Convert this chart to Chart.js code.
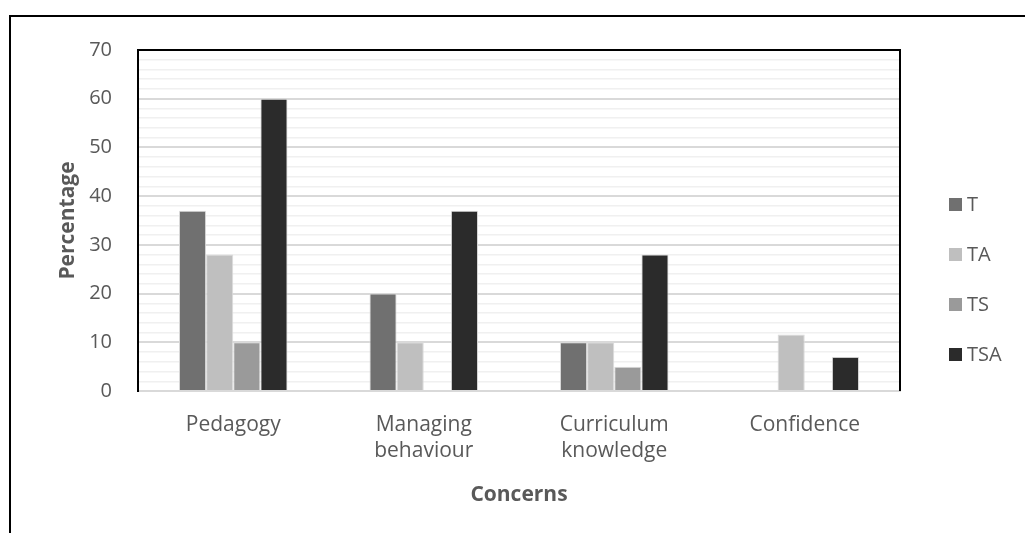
<!DOCTYPE html>
<html>
<head>
<meta charset="utf-8">
<script src="https://cdn.jsdelivr.net/npm/chart.js@4"></script>
<style>
  html, body { margin: 0; padding: 0; background: #fff; }
  #wrap { width: 1025px; height: 533px; }
</style>
</head>
<body>
<div id="wrap"><canvas id="concernsChart" width="1025" height="533"></canvas></div>
<script>
const categories = ['Pedagogy', ['Managing', 'behaviour'], ['Curriculum', 'knowledge'], 'Confidence'];
const seriesNames = ['T', 'TA', 'TS', 'TSA'];
const tValues = [37, 20, 10, 0];
const taValues = [28, 10, 10, 11.6];
const tsValues = [10, 0, 5, 0];
const tsaValues = [60, 37, 28, 7];
const seriesColors = ['#707070', '#bfbfbf', '#9a9a9a', '#2b2b2b'];

const textColor = '#595959';
const fontFamily = '"Open Sans", sans-serif';

// frame round the whole figure, box round the plot, legend on the right
const framePlugin = {
    id: 'frame',
    afterDraw(chart) {
        const c = chart.ctx;
        const a = chart.chartArea;
        c.save();
        c.strokeStyle = '#000';
        c.lineWidth = 2;
        c.beginPath();
        c.moveTo(10, 533);
        c.lineTo(10, 16);
        c.lineTo(1025, 16);
        c.stroke();
        c.beginPath();
        c.moveTo(a.left, a.top);
        c.lineTo(a.right, a.top);
        c.lineTo(a.right, a.bottom);
        c.stroke();

        c.font = '20px ' + fontFamily;
        c.textBaseline = 'middle';
        c.textAlign = 'left';
        chart.data.datasets.forEach((ds, i) => {
            const y = 205 + i * 50;
            c.fillStyle = ds.backgroundColor;
            c.fillRect(949, y - 7, 13, 13);
            c.fillStyle = textColor;
            c.fillText(ds.label, 967, y);
        });
        c.restore();
    }
};

new Chart(document.getElementById('concernsChart'), {
    type: 'bar',
    data: {
        labels: categories,
        datasets: [tValues, taValues, tsValues, tsaValues].map((vals, i) => ({
            label: seriesNames[i],
            data: vals,
            backgroundColor: seriesColors[i],
            borderColor: '#dcdcdc',
            borderWidth: 1,
            categoryPercentage: 0.57,
            barPercentage: 1
        }))
    },
    options: {
        responsive: false,
        animation: false,
        layout: { padding: { top: 50, right: 125, left: 0, bottom: 0 } },
        plugins: {
            legend: { display: false },
            tooltip: { enabled: false }
        },
        scales: {
            x: {
                grid: { display: false, drawTicks: false },
                border: { color: '#d9d9d9', width: 2 },
                ticks: {
                    color: textColor,
                    padding: 21,
                    maxRotation: 0,
                    font: { family: fontFamily, size: 21, lineHeight: 1.24 }
                },
                title: {
                    display: true,
                    text: 'Concerns',
                    color: textColor,
                    font: { family: fontFamily, size: 21, weight: 'bold', lineHeight: 1.2 },
                    padding: { top: 0, bottom: 25 }
                },
                afterFit: s => { s.height = 142; }
            },
            y: {
                min: 0,
                max: 70,
                grid: {
                    drawTicks: false,
                    color: ctx => ctx.tick && ctx.tick.value % 10 === 0 ? '#d9d9d9' : '#f0f0f0',
                    lineWidth: ctx => ctx.tick && ctx.tick.value % 10 === 0 ? 2 : 1.5
                },
                border: { color: '#000', width: 2 },
                ticks: {
                    stepSize: 2,
                    autoSkip: false,
                    padding: 26,
                    color: textColor,
                    font: { family: fontFamily, size: 20 },
                    callback: v => v % 10 === 0 ? v : ''
                },
                title: {
                    display: true,
                    text: 'Percentage',
                    color: textColor,
                    font: { family: fontFamily, size: 21, weight: 'bold', lineHeight: 1.2 },
                    padding: { top: 55, bottom: 0 }
                },
                afterFit: s => { s.width = 138; }
            }
        }
    },
    plugins: [framePlugin]
});
</script>
</body>
</html>
